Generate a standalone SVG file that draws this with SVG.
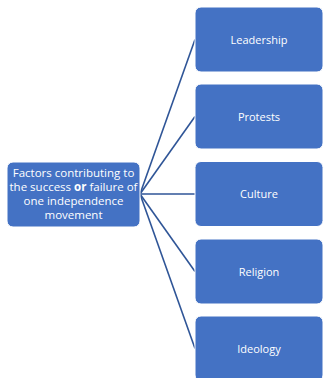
<svg xmlns="http://www.w3.org/2000/svg" width="324" height="378" viewBox="0 0 324 378">
  <style>
    .box { fill: #4472C4; stroke: #FFFFFF; stroke-width: 1; }
    .lbl { font-family: "Open Sans", "Liberation Sans", sans-serif; font-size: 11px; fill: #FFFFFF; text-anchor: middle; }
    .big { font-size: 11.5px; }
    .link { stroke: #2F5597; stroke-width: 1.6; fill: none; }
  </style>
  <rect width="324" height="378" fill="#FFFFFF"/>
  <g id="connectors">
    <line class="link" x1="140" y1="194" x2="195" y2="39.5"/>
    <line class="link" x1="140" y1="194" x2="195" y2="116.5"/>
    <line class="link" x1="140" y1="194" x2="195" y2="194"/>
    <line class="link" x1="140" y1="194" x2="195" y2="271.5"/>
    <line class="link" x1="140" y1="194" x2="195" y2="348.5"/>
  </g>
  <g id="root">
    <rect class="box" x="7" y="162" width="133" height="65" rx="6"/>
    <text class="lbl big" x="73.5" y="177">Factors contributing to</text>
    <text class="lbl big" x="73.5" y="191">the success <tspan font-weight="bold">or</tspan> failure of</text>
    <text class="lbl big" x="73.5" y="205">one independence</text>
    <text class="lbl big" x="73.5" y="219">movement</text>
  </g>
  <g id="leadership">
    <rect class="box" x="195" y="7" width="128" height="65" rx="6"/>
    <text class="lbl" x="259" y="44">Leadership</text>
  </g>
  <g id="protests">
    <rect class="box" x="195" y="84" width="128" height="65" rx="6"/>
    <text class="lbl" x="259" y="121">Protests</text>
  </g>
  <g id="culture">
    <rect class="box" x="195" y="161.5" width="128" height="65" rx="6"/>
    <text class="lbl" x="259" y="198">Culture</text>
  </g>
  <g id="religion">
    <rect class="box" x="195" y="239" width="128" height="65" rx="6"/>
    <text class="lbl" x="259" y="276">Religion</text>
  </g>
  <g id="ideology">
    <rect class="box" x="195" y="316" width="128" height="65" rx="6"/>
    <text class="lbl" x="259" y="353">Ideology</text>
  </g>
</svg>
